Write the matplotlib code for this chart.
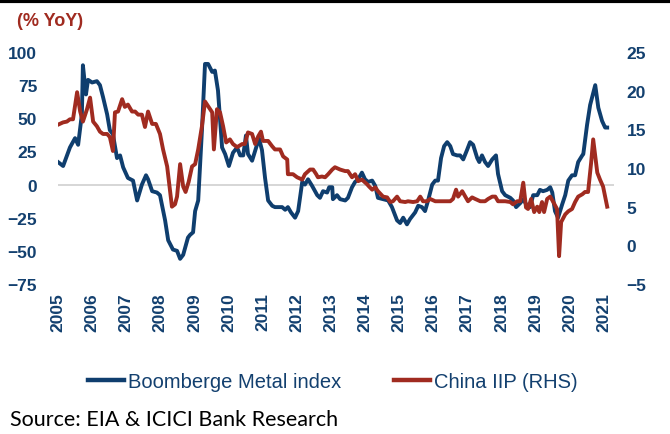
import matplotlib.pyplot as plt
import matplotlib.lines as mlines

# Bloomberg metal index, % YoY (left axis)
metal_t = [2005.00, 2005.15, 2005.35, 2005.50, 2005.59, 2005.70, 2005.73, 2005.82, 2005.88, 2006.00,
           2006.14, 2006.23, 2006.32, 2006.44, 2006.52, 2006.61, 2006.73, 2006.82, 2006.91, 2007.05,
           2007.20, 2007.32, 2007.46, 2007.58, 2007.64, 2007.76, 2007.90, 2007.99, 2008.14, 2008.23,
           2008.37, 2008.49, 2008.58, 2008.67, 2008.81, 2008.87, 2008.96, 2009.02, 2009.11, 2009.22,
           2009.31, 2009.40, 2009.52, 2009.60, 2009.69, 2009.81, 2009.90, 2010.01, 2010.13, 2010.25,
           2010.34, 2010.43, 2010.51, 2010.57, 2010.69, 2010.81, 2010.89, 2010.98, 2011.07, 2011.16,
           2011.28, 2011.36, 2011.57, 2011.66, 2011.74, 2011.83, 2011.95, 2012.04, 2012.16, 2012.24,
           2012.33, 2012.45, 2012.60, 2012.68, 2012.77, 2012.89, 2012.95, 2013.04, 2013.06, 2013.18,
           2013.27, 2013.42, 2013.50, 2013.62, 2013.71, 2013.80, 2013.91, 2014.00, 2014.09, 2014.21,
           2014.30, 2014.38, 2014.53, 2014.68, 2014.79, 2014.94, 2015.03, 2015.12, 2015.23, 2015.32,
           2015.47, 2015.56, 2015.67, 2015.76, 2015.85, 2015.97, 2016.06, 2016.14, 2016.23, 2016.32,
           2016.41, 2016.50, 2016.58, 2016.70, 2016.79, 2016.88, 2016.99, 2017.08, 2017.17, 2017.29,
           2017.35, 2017.43, 2017.52, 2017.61, 2017.73, 2017.84, 2017.90, 2018.02, 2018.11, 2018.26,
           2018.34, 2018.43, 2018.55, 2018.64, 2018.75, 2018.84, 2018.93, 2019.05, 2019.13, 2019.22,
           2019.34, 2019.43, 2019.49, 2019.57, 2019.66, 2019.78, 2019.87, 2019.96, 2020.07, 2020.16,
           2020.25, 2020.37, 2020.40, 2020.51, 2020.60, 2020.75, 2020.84, 2020.95, 2021.04, 2021.10]
metal_v = [17, 14, 28, 35, 30, 53, 90, 68, 79, 77,
           78, 75, 66, 53, 41, 38, 20, 22, 13, 5,
           3, -12, 0, 7, 4, -5, -6, -8, -27, -42,
           -49, -50, -56, -53, -40, -38, -36, -20, -12, 41,
           91, 91, 85, 86, 71, 28, 23, 14, 24, 28,
           22, 22, 37, 23, 18, 28, 35, 26, 5, -12,
           -16, -17, -17, -19, -17, -21, -25, -20, 2, 0,
           4, -1, -8, -10, -5, -6, -2, -2, -11, -8,
           -11, -12, -10, -2, 2, 4, 9, 4, 2, 3,
           -1, -10, -11, -12, -17, -27, -29, -25, -30, -26,
           -21, -16, -17, -20, -12, 0, 3, 3, 20, 29,
           32, 29, 23, 22, 22, 19, 26, 32, 30, 20,
           17, 22, 17, 14, 19, 22, 8, -5, -8, -10,
           -12, -17, -14, -11, -16, -17, -8, -8, -4, -5,
           -4, -2, -6, -20, -25, -15, -8, 3, 7, 7,
           17, 22, 23, 45, 60, 75, 58, 48, 43, 43]

# China IIP, % YoY (right axis)
iip_t = [2005.00, 2005.15, 2005.26, 2005.35, 2005.44, 2005.56, 2005.65, 2005.73, 2005.85, 2005.94,
         2006.03, 2006.14, 2006.23, 2006.32, 2006.44, 2006.52, 2006.61, 2006.67, 2006.76, 2006.88,
         2006.96, 2007.05, 2007.17, 2007.26, 2007.35, 2007.46, 2007.55, 2007.64, 2007.76, 2007.87,
         2007.99, 2008.08, 2008.20, 2008.28, 2008.34, 2008.43, 2008.49, 2008.58, 2008.67, 2008.74,
         2008.83, 2008.93, 2009.02, 2009.11, 2009.22, 2009.31, 2009.40, 2009.52, 2009.57, 2009.66,
         2009.75, 2009.84, 2009.93, 2010.04, 2010.13, 2010.25, 2010.40, 2010.48, 2010.57, 2010.69,
         2010.78, 2010.87, 2010.95, 2011.01, 2011.16, 2011.28, 2011.36, 2011.51, 2011.60, 2011.72,
         2011.74, 2011.89, 2012.01, 2012.16, 2012.24, 2012.39, 2012.48, 2012.57, 2012.62, 2012.74,
         2012.83, 2012.92, 2013.04, 2013.12, 2013.27, 2013.42, 2013.50, 2013.62, 2013.71, 2013.80,
         2013.91, 2014.06, 2014.12, 2014.21, 2014.30, 2014.38, 2014.53, 2014.65, 2014.74, 2014.82,
         2014.94, 2015.03, 2015.18, 2015.26, 2015.41, 2015.53, 2015.62, 2015.70, 2015.82, 2015.91,
         2016.06, 2016.20, 2016.35, 2016.50, 2016.58, 2016.67, 2016.73, 2016.85, 2016.94, 2017.02,
         2017.14, 2017.23, 2017.38, 2017.52, 2017.61, 2017.73, 2017.82, 2017.90, 2018.02, 2018.11,
         2018.26, 2018.34, 2018.46, 2018.55, 2018.64, 2018.72, 2018.78, 2018.87, 2018.96, 2019.05,
         2019.11, 2019.19, 2019.25, 2019.34, 2019.43, 2019.52, 2019.63, 2019.69, 2019.75, 2019.87,
         2019.96, 2020.07, 2020.16, 2020.25, 2020.37, 2020.45, 2020.54, 2020.63, 2020.69, 2020.81,
         2020.89, 2020.98, 2021.10]
iip_v = [15.6, 15.9, 16.0, 16.3, 16.3, 19.8, 17.3, 16.0, 17.6, 19.1,
         16.0, 15.4, 14.7, 14.4, 14.4, 14.0, 12.2, 17.2, 17.3, 18.9,
         17.9, 18.2, 17.3, 17.3, 16.9, 16.9, 15.3, 17.3, 15.7, 15.7,
         14.4, 12.4, 10.2, 7.2, 5.0, 5.3, 6.3, 10.5, 7.6, 6.9,
         8.2, 10.2, 10.5, 12.4, 15.4, 18.6, 18.0, 17.2, 12.4, 17.6,
         17.2, 15.4, 13.3, 13.7, 13.1, 12.7, 13.1, 13.1, 14.6, 14.4,
         13.1, 14.1, 14.7, 13.5, 13.5, 12.8, 12.4, 12.4, 11.5, 11.1,
         9.2, 9.2, 8.8, 8.5, 9.2, 9.8, 9.8, 9.2, 8.8, 8.9,
         8.8, 9.2, 9.8, 10.1, 9.8, 9.6, 9.6, 8.8, 9.2, 8.3,
         8.5, 7.9, 7.6, 7.2, 7.5, 7.0, 6.3, 6.2, 5.6, 5.7,
         6.3, 5.7, 5.6, 5.7, 5.6, 5.7, 6.3, 5.7, 5.7, 6.0,
         5.7, 5.7, 5.7, 5.7, 6.0, 7.2, 6.3, 7.0, 6.3, 5.7,
         6.2, 6.0, 5.7, 5.7, 6.0, 6.3, 6.3, 5.7, 5.7, 5.7,
         5.6, 5.3, 5.7, 5.7, 8.1, 4.9, 4.7, 6.0, 4.3, 5.0,
         4.3, 5.6, 4.3, 6.0, 6.3, 5.6, 4.7, -1.4, 3.0, 4.0,
         4.4, 4.7, 5.6, 6.3, 6.6, 6.9, 6.9, 10.7, 13.7, 9.4,
         8.5, 7.6, 5.0]

years = list(range(2005, 2022))

navy = '#13406f'
blue = '#0f3e6e'
red = '#a02b20'

plt.rcParams['font.family'] = ['Liberation Sans', 'DejaVu Sans']

fig = plt.figure(figsize=(6.7, 4.35), dpi=100)
ax = fig.add_axes([58 / 670, 1 - 285 / 435, 556 / 670, 232 / 435])
ax2 = ax.twinx()

ax.axhline(0, color='#d0d0d0', lw=1.2, zorder=1)
ax.plot(metal_t, metal_v, color=blue, lw=2.8, solid_joinstyle='round', zorder=3)
ax2.plot(iip_t, iip_v, color=red, lw=2.8, solid_joinstyle='round', zorder=3)

ax.set_xlim(2005.0, 2021.3)
ax.set_ylim(-75, 100)
ax2.set_ylim(-5, 25)
ax.set_yticks(range(-75, 101, 25))
ax2.set_yticks(range(-5, 26, 5))
ax.set_xticks(years)
ax.set_xticklabels([str(y) for y in years], rotation=90, va='top', ha='center')

for a in (ax, ax2):
    for s in a.spines.values():
        s.set_visible(False)
    a.tick_params(length=0, colors=navy, labelsize=12.5)
    for lab in a.get_yticklabels() + a.get_xticklabels():
        lab.set_fontweight('bold')
ax.tick_params(axis='y', pad=15)
ax2.tick_params(axis='y', pad=9)
ax.tick_params(axis='x', pad=6)

fig.text(17 / 670, 1 - 22 / 435, '(% YoY)', color=red, fontsize=13, fontweight='bold',
         va='center', ha='left')

# top black rule
fig.add_artist(mlines.Line2D([0, 1], [0.996, 0.996], color='black', lw=3, transform=fig.transFigure))

h1 = mlines.Line2D([], [], color=blue, lw=3.2)
h2 = mlines.Line2D([], [], color=red, lw=3.2)
fig.legend([h1, h2], ['Boomberge Metal index', 'China IIP (RHS)'], loc='center',
           bbox_to_anchor=(0.497, 1 - 383 / 435), ncol=2, frameon=False, fontsize=14.5,
           handlelength=1.8, handletextpad=0.2, columnspacing=2.6, labelcolor=navy)

fig.text(10 / 670, 1 - 420 / 435, 'Source: EIA & ICICI Bank Research', color='black',
         fontsize=15.5, family=['Lato', 'DejaVu Sans'], va='center', ha='left')

fig.savefig('out.png', dpi=100)
